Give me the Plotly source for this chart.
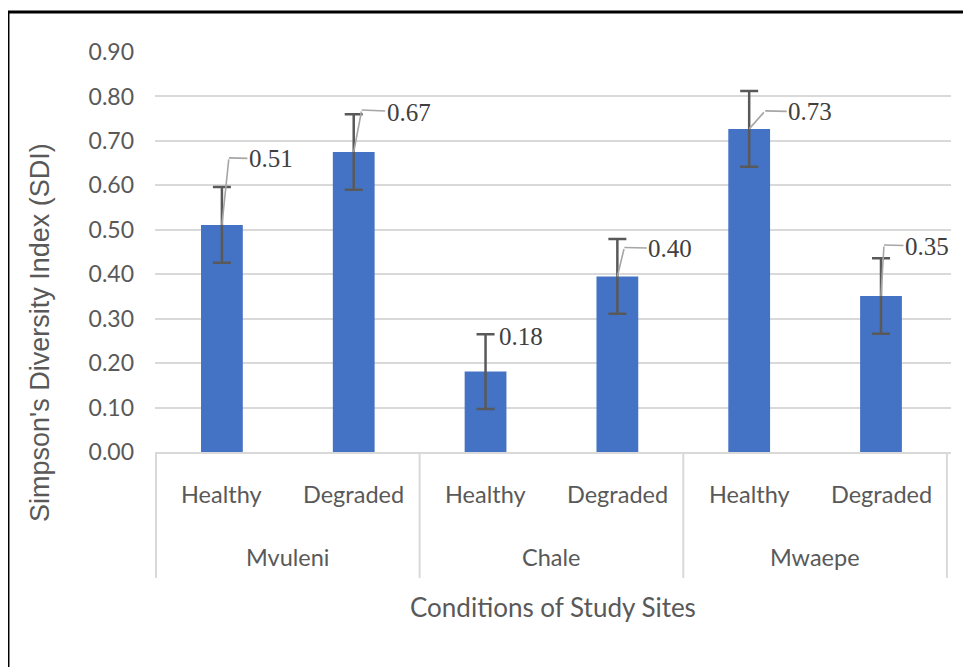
import plotly.graph_objects as go

# ---- data ----
sites = ["Mvuleni", "Mvuleni", "Chale", "Chale", "Mwaepe", "Mwaepe"]
conditions = ["Healthy", "Degraded", "Healthy", "Degraded", "Healthy", "Degraded"]
sdi = [0.511, 0.675, 0.181, 0.395, 0.727, 0.351]
sdi_err = [0.085, 0.085, 0.084, 0.084, 0.085, 0.085]
labels = ["0.51", "0.67", "0.18", "0.40", "0.73", "0.35"]
y_ticks = [0.0, 0.1, 0.2, 0.3, 0.4, 0.5, 0.6, 0.7, 0.8, 0.9]

# label placement (pixel offsets from bar top): text centre, leader elbow
label_text_off = [(49, -66), (55, -40), (35, -35), (53, -28), (61, -17), (46, -50)]
label_elbow_off = [(7, -67), (8, -42), None, (7, -29), (16, -18), (3, -51)]

SANS = "Lato, sans-serif"
SERIF = "Liberation Serif, Times New Roman, serif"
GREY_TXT = "#595959"
GRID = "#d9d9d9"
LEADER = "#a6a6a6"

fig = go.Figure()
fig.add_trace(go.Bar(
    x=[sites, conditions],
    y=sdi,
    marker=dict(color="#4472C4", line=dict(width=0)),
    error_y=dict(type="data", array=sdi_err, visible=True,
                 color="#595959", thickness=2.5, width=9),
    hoverinfo="skip",
))

annotations = []
for i, (v, lab) in enumerate(zip(sdi, labels)):
    tx, ty = label_text_off[i]
    el = label_elbow_off[i]
    if el is None:
        annotations.append(dict(x=i, y=v, xref="x", yref="y", text=lab,
                                showarrow=False, xshift=tx, yshift=-ty,
                                font=dict(family=SERIF, size=25, color="#404040")))
        continue
    ex, ey = el
    annotations.append(dict(x=i, y=v, xref="x", yref="y", text="",
                            showarrow=True, arrowhead=0, arrowwidth=1.6,
                            arrowcolor=LEADER, ax=ex, ay=ey, standoff=0,
                            startstandoff=0))
    annotations.append(dict(x=i, y=v, xref="x", yref="y", text=lab,
                            showarrow=True, arrowhead=0, arrowwidth=1.6,
                            arrowcolor=LEADER, xshift=ex, yshift=-ey,
                            ax=tx - ex, ay=ty - ey, standoff=0,
                            font=dict(family=SERIF, size=25, color="#404040")))

# category labels (two levels)
for i, c in enumerate(conditions):
    annotations.append(dict(x=i, y=-0.105, xref="x", yref="paper", text=c,
                            showarrow=False, xanchor="center", yanchor="middle",
                            font=dict(family=SANS, size=23.5, color=GREY_TXT)))
group_names = []
group_idx = []
for i, s in enumerate(sites):
    if s not in group_names:
        group_names.append(s)
        group_idx.append([i])
    else:
        group_idx[group_names.index(s)].append(i)
for name, idx in zip(group_names, group_idx):
    annotations.append(dict(x=sum(idx) / len(idx), y=-0.2625, xref="x", yref="paper",
                            text=name, showarrow=False, xanchor="center",
                            yanchor="middle",
                            font=dict(family=SANS, size=23.5, color=GREY_TXT)))

annotations.append(dict(x=0.5, y=-0.3875, xref="paper", yref="paper",
                        text="Conditions of Study Sites", showarrow=False,
                        xanchor="center", yanchor="middle",
                        font=dict(family=SANS, size=26, color=GREY_TXT)))
annotations.append(dict(x=-0.1445, y=0.3, xref="paper", yref="paper",
                        text="Simpson's Diversity Index (SDI)", showarrow=False,
                        textangle=-90, xanchor="center", yanchor="middle",
                        font=dict(family="Liberation Sans, Arial, sans-serif",
                                  size=27, color=GREY_TXT)))

# group dividers
shapes = []
bounds = [idx[0] - 0.5 for idx in group_idx] + [group_idx[-1][-1] + 0.5]
for b in bounds:
    shapes.append(dict(type="line", xref="x", yref="paper", x0=b, x1=b,
                       y0=0, y1=-0.315, line=dict(color=GRID, width=2)))
# outer frame
shapes.append(dict(type="line", xref="paper", yref="paper", x0=-0.1847, x1=1.1,
                   y0=1.1, y1=1.1, line=dict(color="black", width=3)))
shapes.append(dict(type="line", xref="paper", yref="paper", x0=-0.1847, x1=-0.1847,
                   y0=1.1, y1=-0.6, line=dict(color="black", width=3)))

fig.update_layout(
    width=963, height=659,
    margin=dict(l=147, r=20, t=44, b=215, autoexpand=False),
    paper_bgcolor="white", plot_bgcolor="white",
    showlegend=False,
    bargap=0.683,
    annotations=annotations,
    shapes=shapes,
)
fig.update_yaxes(range=[0, 0.9], tickvals=y_ticks, tickformat=".2f",
                 showgrid=True, gridcolor=GRID, gridwidth=2,
                 zeroline=False, showline=False, ticks="", automargin=False,
                 ticklabelstandoff=20,
                 tickfont=dict(family=SANS, size=23, color=GREY_TXT))
fig.update_xaxes(type="multicategory", showline=True, linecolor=GRID, linewidth=2,
                 showdividers=False, showticklabels=False, automargin=False,
                 ticks="")

fig.write_html("out.html")
